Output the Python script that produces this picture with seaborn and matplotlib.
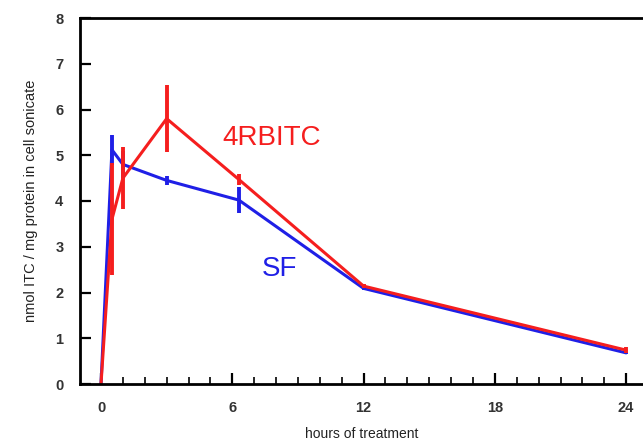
import numpy as np
import pandas as pd
import seaborn as sns
from matplotlib import pyplot as plt
from matplotlib.ticker import MultipleLocator

# values
hours = [0, 0.5, 1, 3, 6.3, 12, 24]
sf_mean = [0, 5.12, 4.8, 4.45, 4.02, 2.09, 0.68]
sf_err = [0, 0.33, 0.3, 0.1, 0.29, 0.03, 0.03]
rbitc_mean = [0, 3.6, 4.5, 5.8, 4.47, 2.14, 0.74]
rbitc_err = [0, 1.22, 0.68, 0.73, 0.12, 0.05, 0.06]

x_ticks = [0, 6, 12, 18, 24]
y_ticks = [0, 1, 2, 3, 4, 5, 6, 7, 8]

blue = "#1f1fe6"
red = "#f51e1e"

df = pd.DataFrame({
    "hours": hours * 2,
    "value": sf_mean + rbitc_mean,
    "err": sf_err + rbitc_err,
    "compound": ["SF"] * len(hours) + ["4RBITC"] * len(hours),
})

sns.set_style("ticks")
plt.rcParams["font.family"] = ["Liberation Sans", "DejaVu Sans"]

fig = plt.figure(figsize=(6.43, 4.43), dpi=100)
ax = fig.add_axes([80 / 643, 1 - 384 / 443, 1 - 80 / 643, (384 - 18) / 443])

sns.lineplot(data=df, x="hours", y="value", hue="compound",
             palette={"SF": blue, "4RBITC": red}, hue_order=["SF", "4RBITC"],
             linewidth=2.2, legend=False, ax=ax)

for name, col in [("SF", blue), ("4RBITC", red)]:
    d = df[df["compound"] == name]
    ax.errorbar(d["hours"], d["value"], yerr=d["err"], fmt="none",
                ecolor=col, elinewidth=2.8, capsize=0)

ax.text(5.53, 5.22, "4RBITC", color=red, fontsize=20, ha="left", va="baseline")
ax.text(7.36, 2.36, "SF", color=blue, fontsize=20, ha="left", va="baseline")

ax.set_xlim(-0.96, 24.77)
ax.set_ylim(0, 8)
ax.set_xticks(x_ticks)
ax.set_yticks(y_ticks)
ax.xaxis.set_minor_locator(MultipleLocator(1))
ax.tick_params(axis="both", which="major", direction="in", length=8, width=1.6,
               labelsize=10.5, colors="black", labelcolor="#333333")
ax.tick_params(axis="x", which="major", pad=12)
ax.tick_params(axis="y", which="major", pad=12)
ax.tick_params(axis="x", which="minor", direction="in", length=5, width=1.4)
for lab in ax.get_xticklabels() + ax.get_yticklabels():
    lab.set_fontweight("bold")

for s in ["left", "bottom", "top"]:
    ax.spines[s].set_linewidth(2)
    ax.spines[s].set_color("black")
ax.spines["right"].set_visible(False)

ax.set_xlabel("hours of treatment", fontsize=10, color="#222222", labelpad=9)
ax.set_ylabel("nmol ITC / mg protein in cell sonicate", fontsize=10.5,
              color="#222222", labelpad=12)

fig.savefig("out.png", dpi=100)
